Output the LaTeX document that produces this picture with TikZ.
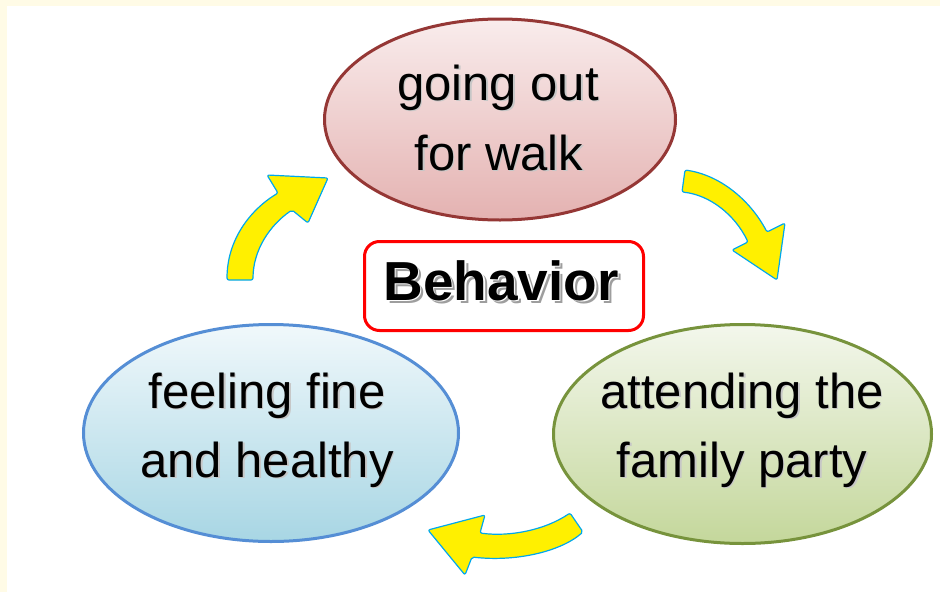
\documentclass[tikz,border=0pt]{standalone}
\usepackage{fontspec}
\setmainfont{Liberation Sans}
\usetikzlibrary{shapes.geometric}
\definecolor{cream}{RGB}{255,251,230}
\definecolor{walkline}{RGB}{149,55,53}
\definecolor{walktop}{RGB}{249,236,236}
\definecolor{walkbot}{RGB}{228,178,177}
\definecolor{fineline}{RGB}{85,142,213}
\definecolor{finetop}{RGB}{240,248,251}
\definecolor{finebot}{RGB}{168,214,228}
\definecolor{partyline}{RGB}{119,147,60}
\definecolor{partytop}{RGB}{243,247,236}
\definecolor{partybot}{RGB}{196,215,155}
\definecolor{arrowfill}{RGB}{255,240,0}
\definecolor{arrowline}{RGB}{0,168,236}
\newcommand{\shadowtext}[4]{% offset-x, offset-y, color, text
  \makebox[0pt][l]{\hspace*{#1}\raisebox{-#2}{\color{#3}#4}}}
\newcommand{\behword}{%
  \shadowtext{3.5pt}{3.5pt}{black!38}{Behavior}%
  \shadowtext{1.5pt}{1.5pt}{white}{Behavior}%
  Behavior}
\tikzset{
  bubble/.style={ellipse, line width=3pt, inner sep=0pt},
  lbl/.style={anchor=base, font=\fontsize{49}{58}\selectfont, text=black, inner sep=0pt},
  cyclearrow/.style={fill=arrowfill, draw=arrowline, line width=1.2pt, rounded corners=2pt, line join=round},
  behfont/.style={anchor=base, font=\fontsize{55}{62}\selectfont\bfseries, inner sep=0pt, text=black}
}
\begin{document}
\begin{tikzpicture}[x=1pt,y=-1pt]
\useasboundingbox (0,0) rectangle (940,592);
\fill[cream] (0,0) rectangle (940,592);
\fill[white] (7,6) rectangle (940,592);

% ellipses
\node[bubble, draw=walkline, top color=walktop, bottom color=walkbot, minimum width=351pt, minimum height=201pt] (walk) at (500,119.5) {};
\node[bubble, draw=fineline, top color=finetop, bottom color=finebot, minimum width=375pt, minimum height=217pt] (fine) at (271,433) {};
\node[bubble, draw=partyline, top color=partytop, bottom color=partybot, minimum width=378pt, minimum height=219pt] (party) at (742.5,434) {};

% ellipse texts
\foreach \t/\x/\y/\n in {going out/498/100/w1, for walk/499/170/w2,
  feeling fine/267/408/f1, and healthy/267/477/f2,
  attending the/742/408/p1, family party/742/477/p2} {
  \node[lbl] (\n) at (\x,\y) {\shadowtext{1.5pt}{1.5pt}{black!22}{\t}\t};
}

% central box
\node[draw=red, line width=3pt, rounded corners=15pt, minimum width=279pt, minimum height=89pt, fill=white] (beh) at (504,286) {};
\node[behfont] (behtext) at (501,300) {\behword};

% arrows
\draw[cyclearrow] (227,280) .. controls (227,240) and (250,210) .. (278,193)
  -- (267,175) -- (328,178) -- (308,223) -- (292,210)
  .. controls (270,225) and (253,250) .. (253,280) -- cycle;
\draw[cyclearrow] (685,170) .. controls (720,175) and (750,200) .. (767,232)
  -- (785,223) -- (777,280) -- (732,250) -- (748,242)
  .. controls (735,215) and (710,195) .. (682,192) -- cycle;
\draw[cyclearrow] (570,513) .. controls (545,530) and (510,537) .. (480,533)
  -- (485,515) -- (428,530) -- (465,575) -- (472,557)
  .. controls (515,562) and (560,552) .. (583,532) -- cycle;
\end{tikzpicture}
\end{document}
